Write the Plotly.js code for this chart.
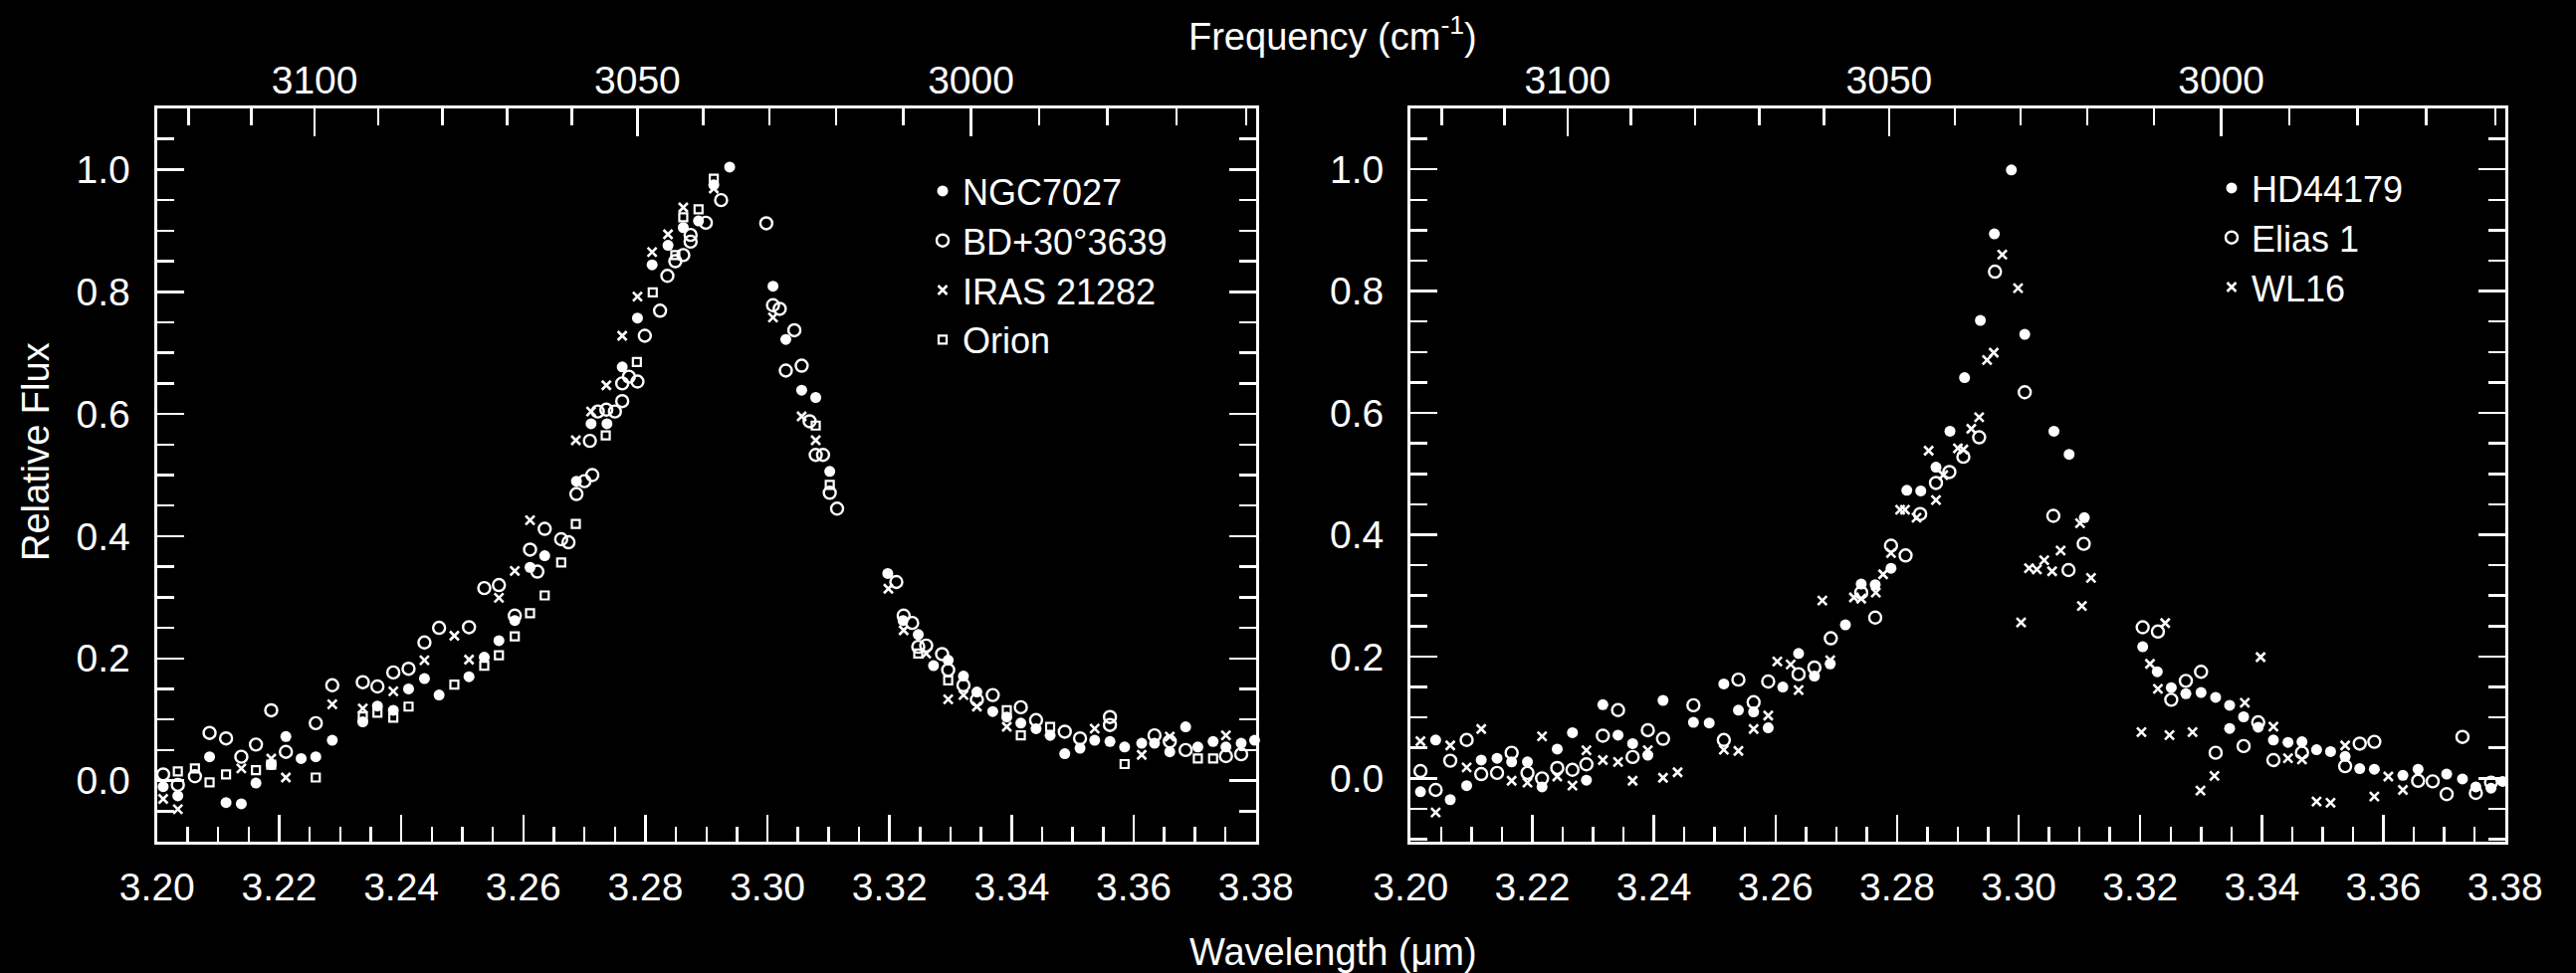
<!DOCTYPE html>
<html>
<head>
<meta charset="utf-8">
<script src="https://cdn.plot.ly/plotly-3.0.1.min.js"></script>
<style>
html,body{margin:0;padding:0;background:#000;}
#plot{width:2588px;height:978px;}
</style>
</head>
<body>
<div id="plot"></div>
<script>
// ---------------- LEFT PANEL DATA ----------------
const ngcWl = [3.2010,3.2034,3.2086,3.2113,3.2138,3.2162,3.2187,3.2211,3.2236,3.2260,3.2287,3.2337,3.2361,3.2387,3.2412,3.2438,3.2462,3.2511,3.2536,3.2560,3.2586,3.2611,3.2635,3.2687,3.2711,3.2737,3.2762,3.2787,3.2811,3.2837,3.2862,3.2887,3.2912,3.2938,3.3009,3.3030,3.3056,3.3079,3.3102,3.3197,3.3222,3.3247,3.3272,3.3296,3.3321,3.3343,3.3369,3.3392,3.3415,3.3440,3.3463,3.3487,3.3512,3.3536,3.3561,3.3585,3.3613,3.3634,3.3659,3.3685,3.3705,3.3730,3.3751,3.3776,3.3798];
const ngcFlux = [-0.010,-0.025,0.039,-0.036,-0.038,-0.004,0.026,0.072,0.036,0.039,0.066,0.096,0.122,0.115,0.150,0.167,0.140,0.170,0.202,0.229,0.262,0.349,0.368,0.490,0.584,0.584,0.677,0.757,0.844,0.876,0.905,0.916,0.975,1.004,0.809,0.722,0.639,0.627,0.506,0.339,0.262,0.239,0.188,0.197,0.171,0.145,0.113,0.104,0.094,0.085,0.074,0.044,0.053,0.066,0.064,0.055,0.061,0.061,0.047,0.088,0.055,0.064,0.055,0.061,0.066];

const bdWl = [3.2010,3.2034,3.2062,3.2086,3.2113,3.2138,3.2162,3.2187,3.2211,3.2260,3.2287,3.2337,3.2361,3.2387,3.2412,3.2438,3.2462,3.2511,3.2536,3.2560,3.2586,3.2611,3.2623,3.2635,3.2662,3.2674,3.2687,3.2700,3.2713,3.2709,3.2722,3.2736,3.2750,3.2762,3.2762,3.2773,3.2787,3.2799,3.2824,3.2836,3.2849,3.2862,3.2874,3.2874,3.2899,3.2924,3.2998,3.3009,3.3020,3.3030,3.3044,3.3056,3.3069,3.3079,3.3091,3.3102,3.3114,3.3211,3.3223,3.3237,3.3247,3.3260,3.3286,3.3296,3.3321,3.3343,3.3369,3.3415,3.3440,3.3487,3.3512,3.3561,3.3561,3.3634,3.3659,3.3685,3.3751,3.3776];
const bdFlux = [0.010,-0.007,0.007,0.078,0.069,0.039,0.059,0.115,0.047,0.094,0.156,0.161,0.154,0.177,0.183,0.226,0.250,0.251,0.315,0.320,0.270,0.378,0.342,0.412,0.395,0.390,0.469,0.490,0.500,0.556,0.604,0.607,0.604,0.650,0.621,0.661,0.653,0.728,0.769,0.826,0.850,0.860,0.893,0.882,0.913,0.950,0.912,0.778,0.772,0.671,0.737,0.679,0.588,0.533,0.533,0.471,0.445,0.325,0.270,0.258,0.219,0.221,0.207,0.181,0.156,0.132,0.140,0.120,0.099,0.080,0.069,0.104,0.091,0.074,0.064,0.050,0.040,0.043];

const irasWl = [3.2010,3.2034,3.2138,3.2187,3.2211,3.2287,3.2337,3.2387,3.2438,3.2487,3.2511,3.2560,3.2586,3.2611,3.2686,3.2711,3.2736,3.2762,3.2787,3.2811,3.2837,3.2862,3.2912,3.3009,3.3056,3.3079,3.3198,3.3223,3.3260,3.3296,3.3321,3.3343,3.3392,3.3536,3.3613,3.3659,3.3751];
const irasFlux = [-0.030,-0.047,0.020,0.036,0.005,0.125,0.118,0.146,0.197,0.237,0.198,0.299,0.343,0.426,0.557,0.604,0.647,0.728,0.792,0.865,0.894,0.938,0.969,0.758,0.596,0.557,0.314,0.246,0.208,0.133,0.140,0.121,0.088,0.085,0.042,0.072,0.074];

const orionWl = [3.2034,3.2062,3.2086,3.2113,3.2162,3.2187,3.2260,3.2337,3.2361,3.2387,3.2412,3.2487,3.2536,3.2560,3.2586,3.2611,3.2635,3.2662,3.2686,3.2735,3.2786,3.2812,3.2849,3.2862,3.2887,3.2912,3.3079,3.3102,3.3247,3.3296,3.3392,3.3415,3.3463,3.3585,3.3705,3.3730];
const orionFlux = [0.015,0.020,-0.003,0.010,0.017,0.026,0.005,0.105,0.111,0.103,0.121,0.157,0.188,0.205,0.236,0.274,0.303,0.357,0.420,0.565,0.685,0.799,0.860,0.922,0.935,0.985,0.581,0.484,0.208,0.164,0.115,0.074,0.088,0.027,0.036,0.036];

// ---------------- RIGHT PANEL DATA ----------------
const hdWl = [3.2016,3.2041,3.2065,3.2092,3.2116,3.2142,3.2166,3.2192,3.2216,3.2241,3.2266,3.2289,3.2316,3.2341,3.2365,3.2390,3.2415,3.2465,3.2491,3.2515,3.2539,3.2564,3.2588,3.2612,3.2638,3.2664,3.2690,3.2715,3.2741,3.2764,3.2790,3.2816,3.2839,3.2864,3.2887,3.2911,3.2937,3.2960,3.2988,3.3010,3.3058,3.3083,3.3108,3.3204,3.3228,3.3251,3.3275,3.3300,3.3324,3.3347,3.3347,3.3370,3.3394,3.3419,3.3443,3.3466,3.3490,3.3513,3.3537,3.3561,3.3585,3.3632,3.3657,3.3704,3.3730,3.3752,3.3777,3.3796];
const hdFlux = [-0.022,0.063,-0.035,-0.012,0.030,0.033,0.027,0.027,-0.014,0.048,0.075,-0.003,0.121,0.071,0.057,0.038,0.128,0.092,0.091,0.155,0.112,0.109,0.083,0.150,0.205,0.168,0.188,0.252,0.319,0.318,0.345,0.473,0.472,0.511,0.570,0.658,0.752,0.894,0.999,0.729,0.570,0.532,0.428,0.216,0.175,0.149,0.139,0.141,0.133,0.120,0.082,0.101,0.084,0.063,0.059,0.060,0.047,0.044,0.036,0.016,0.015,0.005,0.015,0.007,-0.001,-0.014,-0.016,-0.005];

const eliasWl = [3.2016,3.2041,3.2065,3.2092,3.2116,3.2142,3.2166,3.2192,3.2216,3.2241,3.2266,3.2289,3.2316,3.2341,3.2365,3.2390,3.2415,3.2465,3.2515,3.2539,3.2564,3.2588,3.2638,3.2664,3.2691,3.2741,3.2764,3.2790,3.2814,3.2838,3.2864,3.2886,3.2909,3.2935,3.2961,3.3010,3.3057,3.3082,3.3107,3.3204,3.3229,3.3251,3.3275,3.3300,3.3324,3.3370,3.3394,3.3419,3.3466,3.3537,3.3561,3.3585,3.3657,3.3681,3.3704,3.3730,3.3752,3.3777];
const eliasFlux = [0.012,-0.019,0.029,0.063,0.007,0.009,0.042,0.009,0.000,0.017,0.014,0.023,0.070,0.112,0.035,0.079,0.065,0.120,0.063,0.162,0.125,0.159,0.171,0.182,0.230,0.305,0.264,0.382,0.366,0.434,0.485,0.503,0.528,0.560,0.832,0.634,0.431,0.342,0.385,0.248,0.241,0.129,0.160,0.175,0.042,0.053,0.092,0.030,0.042,0.020,0.057,0.060,-0.004,-0.005,-0.026,0.068,-0.024,-0.007];

const wlWl = [3.2016,3.2041,3.2065,3.2092,3.2116,3.2166,3.2192,3.2216,3.2241,3.2266,3.2289,3.2316,3.2341,3.2365,3.2390,3.2415,3.2439,3.2515,3.2539,3.2564,3.2588,3.2603,3.2625,3.2638,3.2677,3.2690,3.2729,3.2741,3.2765,3.2777,3.2790,3.2805,3.2813,3.2832,3.2852,3.2864,3.2876,3.2900,3.2909,3.2922,3.2935,3.2948,3.2959,3.2973,3.2999,3.3004,3.3017,3.3030,3.3042,3.3055,3.3069,3.3101,3.3104,3.3119,3.3202,3.3216,3.3229,3.3241,3.3248,3.3286,3.3299,3.3322,3.3372,3.3398,3.3419,3.3443,3.3466,3.3490,3.3513,3.3537,3.3585,3.3608,3.3632];
const wlFlux = [0.061,-0.056,0.054,0.018,0.081,-0.004,-0.007,0.069,0.003,-0.012,0.046,0.030,0.027,-0.004,0.046,0.001,0.010,0.047,0.045,0.081,0.103,0.192,0.187,0.145,0.292,0.194,0.297,0.295,0.305,0.335,0.370,0.441,0.441,0.428,0.538,0.457,0.498,0.542,0.540,0.574,0.593,0.687,0.699,0.860,0.805,0.256,0.345,0.343,0.358,0.340,0.374,0.419,0.283,0.329,0.076,0.188,0.147,0.255,0.071,0.076,-0.020,0.004,0.124,0.199,0.085,0.033,0.031,-0.038,-0.040,0.054,-0.030,0.003,-0.019];

// ---------------- AXIS LABELS ----------------
const freqTickLabels = [3100, 3050, 3000];
const freqMinorTicks = [3120,3110,3100,3090,3080,3070,3060,3050,3040,3030,3020,3010,3000,2990,2980,2970,2960];
const wlRange = [3.19995, 3.38005];

const FONT = 'Liberation Sans, Arial, Helvetica, sans-serif';
const WHITE = '#ffffff';

function mk(kind){
  if(kind==='filled') return {symbol:'circle', size:11, color:WHITE, line:{width:0}};
  if(kind==='open') return {symbol:'circle-open', size:12, color:WHITE, line:{width:2.4, color:WHITE}};
  if(kind==='x') return {symbol:'x-thin-open', size:9, color:WHITE, line:{width:2.6, color:WHITE}};
  return {symbol:'square-open', size:8, color:WHITE, line:{width:2.2, color:WHITE}};
}
function tr(x,y,name,kind,xa,ya,leg){
  return {type:'scatter', mode:'markers', x:x, y:y, name:name, marker:mk(kind), xaxis:xa, yaxis:ya, legend:leg, cliponaxis:false};
}

const data = [
  tr(ngcWl, ngcFlux, 'NGC7027', 'filled', 'x', 'y', 'legend'),
  tr(bdWl, bdFlux, 'BD+30°3639', 'open', 'x', 'y', 'legend'),
  tr(irasWl, irasFlux, 'IRAS 21282', 'x', 'x', 'y', 'legend'),
  tr(orionWl, orionFlux, 'Orion', 'square', 'x', 'y', 'legend'),
  tr(hdWl, hdFlux, 'HD44179', 'filled', 'x2', 'y2', 'legend2'),
  tr(eliasWl, eliasFlux, 'Elias 1', 'open', 'x2', 'y2', 'legend2'),
  tr(wlWl, wlFlux, 'WL16', 'x', 'x2', 'y2', 'legend2'),
  {type:'scatter', mode:'markers', x:[], y:[], xaxis:'x3', yaxis:'y', showlegend:false},
  {type:'scatter', mode:'markers', x:[], y:[], xaxis:'x4', yaxis:'y2', showlegend:false}
];

const freqVals = freqTickLabels.map(f => 1e4/f);
const freqMinorVals = freqMinorTicks.map(f => 1e4/f);

function bottomAxis(domain, anchor){
  return {
    domain: domain, anchor: anchor, range: wlRange, autorange:false,
    tickmode:'linear', tick0:3.20, dtick:0.02, tickformat:'.2f',
    ticks:'inside', ticklen:27, tickwidth:2.5, tickcolor:WHITE,
    showline:true, linecolor:WHITE, linewidth:3, mirror:true,
    showgrid:false, zeroline:false,
    minor:{tickmode:'linear', tick0:3.20, dtick:0.005, ticks:'inside', ticklen:15, tickwidth:2.5, tickcolor:WHITE, showgrid:false},
    tickfont:{family:FONT, size:39, color:WHITE},
    ticklabelstandoff: 9,
    automargin:false, fixedrange:true
  };
}
function topAxis(over, anchor){
  return {
    overlaying: over, anchor: anchor, side:'top', range: wlRange, autorange:false,
    tickmode:'array', tickvals: freqVals, ticktext: freqTickLabels.map(String),
    ticks:'inside', ticklen:28, tickwidth:2.5, tickcolor:WHITE,
    showline:true, linecolor:WHITE, linewidth:3,
    showgrid:false, zeroline:false,
    minor:{tickmode:'array', tickvals: freqMinorVals, ticks:'inside', ticklen:17, tickwidth:2.5, tickcolor:WHITE, showgrid:false},
    tickfont:{family:FONT, size:39, color:WHITE},
    ticklabelstandoff: -4,
    automargin:false, fixedrange:true
  };
}
function leftAxis(domain, anchor, range){
  return {
    domain: domain, anchor: anchor, range: range, autorange:false,
    tickmode:'linear', tick0:0, dtick:0.2, tickformat:'.1f',
    ticks:'inside', ticklen:27, tickwidth:2.5, tickcolor:WHITE,
    showline:true, linecolor:WHITE, linewidth:3, mirror:'ticks',
    showgrid:false, zeroline:false,
    minor:{tickmode:'linear', tick0:0, dtick:0.05, ticks:'inside', ticklen:17, tickwidth:2.5, tickcolor:WHITE, showgrid:false},
    tickfont:{family:FONT, size:39, color:WHITE},
    ticklabelstandoff: 16,
    automargin:false, fixedrange:true
  };
}

const yDom = [1-846/978, 1-109/978];
const layout = {
  width:2588, height:978,
  paper_bgcolor:'#000000', plot_bgcolor:'#000000',
  margin:{l:0, r:0, t:0, b:0, pad:0},
  font:{family:FONT, color:WHITE, size:38},
  showlegend:true,
  xaxis: bottomAxis([157.5/2588, 1262/2588], 'y'),
  yaxis: leftAxis(yDom, 'x', [-0.1, 1.1]),
  xaxis2: bottomAxis([1417/2588, 2517/2588], 'y2'),
  yaxis2: leftAxis(yDom, 'x2', [-0.104, 1.1]),
  xaxis3: topAxis('x', 'y'),
  xaxis4: topAxis('x2', 'y2'),
  legend: {x:927/2588, y:1-162/978, xanchor:'left', yanchor:'top', bgcolor:'rgba(0,0,0,0)', borderwidth:0,
           font:{family:FONT, size:36, color:WHITE}, itemwidth:30, tracegroupgap:0},
  legend2: {x:2222/2588, y:1-159/978, xanchor:'left', yanchor:'top', bgcolor:'rgba(0,0,0,0)', borderwidth:0,
           font:{family:FONT, size:36, color:WHITE}, itemwidth:30, tracegroupgap:0},
  annotations: [
    {text:'Frequency (cm<sup>-1</sup>)', xref:'paper', yref:'paper', x:1339/2588, y:1-34/978, xanchor:'center', yanchor:'middle', showarrow:false, font:{family:FONT, size:38, color:WHITE}},
    {text:'Wavelength (\u03bcm)', xref:'paper', yref:'paper', x:1339/2588, y:1-957/978, xanchor:'center', yanchor:'middle', showarrow:false, font:{family:FONT, size:38, color:WHITE}},
    {text:'Relative Flux', xref:'paper', yref:'paper', x:36/2588, y:1-454/978, xanchor:'center', yanchor:'middle', textangle:-90, showarrow:false, font:{family:FONT, size:38, color:WHITE}}
  ]
};

Plotly.newPlot('plot', data, layout, {staticPlot:true, displayModeBar:false});
</script>
</body>
</html>
